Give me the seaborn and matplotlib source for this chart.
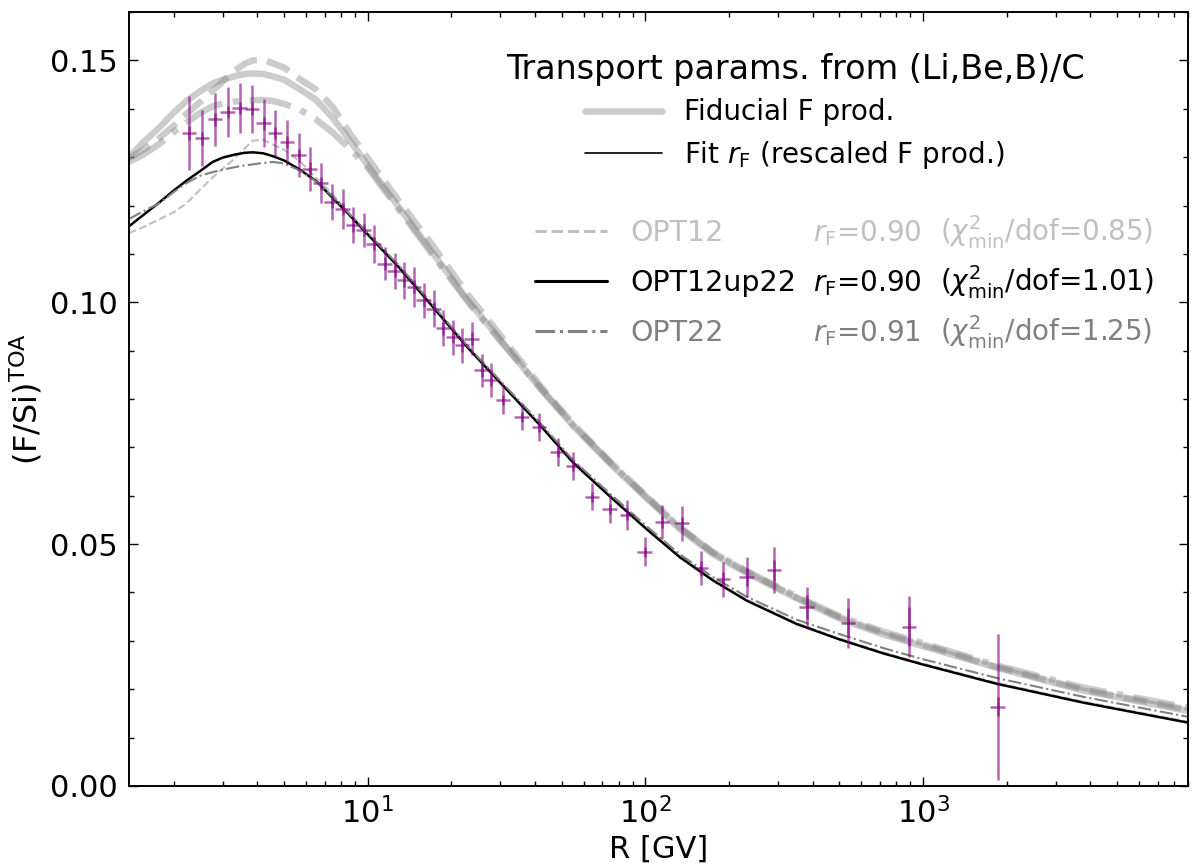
import numpy as np
import pandas as pd
import matplotlib
matplotlib.use("Agg")
import matplotlib.pyplot as plt
import seaborn as sns
from matplotlib.lines import Line2D
from matplotlib.ticker import MultipleLocator, FormatStrFormatter

# --- AMS-02 F/Si data ---
R_data = [2.27, 2.53, 2.82, 3.13, 3.46, 3.83, 4.22, 4.65, 5.12, 5.63, 6.18, 6.77,
          7.42, 8.11, 8.86, 9.67, 10.5, 11.5, 12.5, 13.5, 14.7, 15.9, 17.3, 18.7,
          20.3, 21.9, 23.7, 25.7, 27.7, 30.7, 35.8, 41.4, 48.3, 54.9, 64.3, 74.5,
          86.0, 99.6, 115, 135, 159, 191, 232, 291, 381, 538, 890, 1860]
FSi_data = [0.1350, 0.1339, 0.1378, 0.1393, 0.1402, 0.1400, 0.1370, 0.1350, 0.1331,
            0.1304, 0.1276, 0.1246, 0.1207, 0.1193, 0.1159, 0.1149, 0.1121, 0.1080,
            0.1065, 0.1045, 0.1032, 0.1004, 0.0987, 0.0946, 0.0928, 0.0911, 0.0925,
            0.0859, 0.0839, 0.0798, 0.0763, 0.0742, 0.0691, 0.0662, 0.0598, 0.0572,
            0.0560, 0.0484, 0.0546, 0.0543, 0.0450, 0.0427, 0.0432, 0.0446, 0.0370,
            0.0337, 0.0329, 0.0164]
err_tot = [0.0076, 0.0058, 0.0054, 0.0052, 0.0052, 0.0050, 0.0050, 0.0048, 0.0045,
           0.0045, 0.0045, 0.0041, 0.0037, 0.0041, 0.0037, 0.0035, 0.0039, 0.0035,
           0.0037, 0.0039, 0.0041, 0.0036, 0.0039, 0.0037, 0.0036, 0.0036, 0.0035,
           0.0035, 0.0035, 0.0030, 0.0027, 0.0029, 0.0029, 0.0029, 0.0028, 0.0029,
           0.0031, 0.0030, 0.0035, 0.0036, 0.0035, 0.0037, 0.0041, 0.0048, 0.0041,
           0.0052, 0.0063, 0.0151]
err_stat = [0.0014, 0.0013, 0.0013, 0.0013, 0.0013, 0.0013, 0.0013, 0.0013, 0.0013,
            0.0013, 0.0013, 0.0013, 0.0013, 0.0013, 0.0013, 0.0013, 0.0013, 0.0013,
            0.0013, 0.0013, 0.0013, 0.0013, 0.0013, 0.0013, 0.0013, 0.0013, 0.0013,
            0.0013, 0.0013, 0.0010, 0.0010, 0.0010, 0.0010, 0.0010, 0.0010, 0.0010,
            0.0010, 0.0010, 0.0013, 0.0014, 0.0015, 0.0016, 0.0018, 0.0022, 0.0024,
            0.0030, 0.0040, 0.0020]
XERR_FRAC = 0.06

# --- model curves ---
R_model = [1.38, 1.55, 1.78, 2.0, 2.23, 2.5, 2.76, 3.0, 3.3, 3.6, 3.85, 4.2, 4.55,
           5.0, 5.7, 6.5, 7.5, 8.6, 10, 13, 17, 23, 31, 42, 55, 75, 100, 133, 175,
           232, 350, 500, 720, 1000, 1850, 3800, 9000]
fid_opt12 = [0.1298, 0.1315, 0.1340, 0.1365, 0.1390, 0.1415, 0.1437, 0.1456, 0.1478,
             0.1493, 0.1500, 0.1502, 0.1494, 0.1485, 0.1461, 0.1440, 0.1403, 0.1350,
             0.1298, 0.1208, 0.1120, 0.1015, 0.0922, 0.0826, 0.0748, 0.0669, 0.0601,
             0.0535, 0.0483, 0.0443, 0.0390, 0.0349, 0.0316, 0.0292, 0.0246, 0.0199, 0.0158]
fid_opt12up22 = [0.1300, 0.1330, 0.1362, 0.1392, 0.1417, 0.1437, 0.1452, 0.1460, 0.1467,
                 0.1472, 0.1473, 0.1472, 0.1467, 0.1460, 0.1440, 0.1419, 0.1380, 0.1335,
                 0.1283, 0.1195, 0.1105, 0.1003, 0.0913, 0.0820, 0.0744, 0.0665, 0.0597,
                 0.0531, 0.0479, 0.0440, 0.0388, 0.0346, 0.0313, 0.0289, 0.0244, 0.0197, 0.0155]
fid_opt22 = [0.1290, 0.1305, 0.1328, 0.1352, 0.1372, 0.1392, 0.1405, 0.1411, 0.1415,
             0.1417, 0.1418, 0.1418, 0.1416, 0.1410, 0.1398, 0.1378, 0.1350, 0.1318,
             0.1278, 0.1190, 0.1100, 0.1000, 0.0911, 0.0822, 0.0746, 0.0668, 0.0600,
             0.0534, 0.0483, 0.0444, 0.0392, 0.0351, 0.0319, 0.0295, 0.0249, 0.0203, 0.0162]
fit_opt12 = [0.1143, 0.1155, 0.1172, 0.1186, 0.1205, 0.1234, 0.1258, 0.1276, 0.1296,
             0.1318, 0.1334, 0.1336, 0.1326, 0.1315, 0.1291, 0.1258, 0.1222, 0.1183,
             0.1143, 0.1073, 0.0995, 0.0907, 0.0827, 0.0746, 0.0670, 0.0599, 0.0535,
             0.0475, 0.0427, 0.0385, 0.0337, 0.0305, 0.0276, 0.0253, 0.0213, 0.0174, 0.0133]
fit_opt12up22 = [0.1157, 0.1180, 0.1207, 0.1231, 0.1252, 0.1272, 0.1290, 0.1299, 0.1305,
                 0.1309, 0.1310, 0.1308, 0.1302, 0.1293, 0.1274, 0.1251, 0.1215, 0.1180,
                 0.1140, 0.1071, 0.0993, 0.0905, 0.0825, 0.0744, 0.0668, 0.0597, 0.0533,
                 0.0473, 0.0425, 0.0383, 0.0335, 0.0303, 0.0274, 0.0251, 0.0211, 0.0172, 0.0131]
fit_opt22 = [0.1172, 0.1188, 0.1205, 0.1228, 0.1247, 0.1262, 0.1269, 0.1274, 0.1279,
             0.1283, 0.1285, 0.1288, 0.1290, 0.1287, 0.1272, 0.1250, 0.1218, 0.1182,
             0.1143, 0.1075, 0.0997, 0.0908, 0.0829, 0.0749, 0.0673, 0.0603, 0.0539,
             0.0479, 0.0432, 0.0391, 0.0344, 0.0314, 0.0285, 0.0262, 0.0223, 0.0184, 0.0143]

models = ['OPT12', 'OPT12up22', 'OPT22']
rF_vals = ['0.90', '0.90', '0.91']
chi2_vals = ['0.85', '1.01', '1.25']
model_colors = ['#c0c0c0', 'black', 'gray']
model_styles = ['--', '-', '-.']
fid_curves = [fid_opt12, fid_opt12up22, fid_opt22]
fit_curves = [fit_opt12, fit_opt12up22, fit_opt22]

# --- style ---
sns.set_style('ticks')
plt.rcParams['font.family'] = ['DejaVu Sans']
plt.rcParams['mathtext.fontset'] = 'dejavusans'
for k in ['text.color', 'axes.labelcolor', 'xtick.color', 'ytick.color', 'axes.edgecolor']:
    plt.rcParams[k] = 'black'

fig, ax = plt.subplots(figsize=(12, 8.66), dpi=100)
fig.subplots_adjust(left=0.1075, right=0.99, bottom=0.0924, top=0.9861)
ax.set_xscale('log')

# fiducial predictions (thick, light)
for name, yv, ls in zip(models, fid_curves, model_styles):
    df = pd.DataFrame({'R': R_model, 'y': yv})
    sns.lineplot(data=df, x='R', y='y', ax=ax, color='gray', alpha=0.4,
                 linewidth=4.7, linestyle=ls, legend=False, zorder=1)

# fitted (rescaled) predictions
for name, yv, ls, c in zip(models, fit_curves, model_styles, model_colors):
    df = pd.DataFrame({'R': R_model, 'y': yv})
    lw = 1.8 if name == 'OPT12up22' else 1.5
    sns.lineplot(data=df, x='R', y='y', ax=ax, color=c, linewidth=lw,
                 linestyle=ls, legend=False, zorder=2)

# data
R_arr = np.array(R_data)
ax.errorbar(R_arr, FSi_data, yerr=err_tot, xerr=XERR_FRAC * R_arr, fmt='none',
            ecolor='purple', elinewidth=1.8, alpha=0.6, zorder=3)
ax.errorbar(R_arr, FSi_data, yerr=err_stat, fmt='none',
            ecolor='purple', elinewidth=1.8, alpha=0.6, zorder=3)

ax.set_xlim(1.38, 9000)
ax.set_ylim(0, 0.16)
ax.yaxis.set_major_locator(MultipleLocator(0.05))
ax.yaxis.set_minor_locator(MultipleLocator(0.01))
ax.yaxis.set_major_formatter(FormatStrFormatter('%.2f'))
ax.tick_params(which='both', direction='in', top=True, right=True, width=1.0)
ax.tick_params(which='major', length=6.5, labelsize=22, pad=8)
ax.tick_params(which='minor', length=3.5)
for sp in ax.spines.values():
    sp.set_linewidth(1.4)

ax.set_xlabel('R [GV]', fontsize=22)
ax.set_ylabel(r'$(\mathrm{F/Si})^{\mathrm{TOA}}$', fontsize=23)

# legend 1: fiducial vs fit
h1 = [Line2D([], [], color='gray', alpha=0.4, lw=4.7),
      Line2D([], [], color='black', lw=1.2)]
l1 = ['Fiducial F prod.', r'Fit $r_\mathrm{F}$ (rescaled F prod.)']
leg1 = ax.legend(h1, l1, title='Transport params. from (Li,Be,B)/C',
                 title_fontsize=24, fontsize=20, frameon=False,
                 loc='upper center', bbox_to_anchor=(0.629, 0.98),
                 handlelength=2.77, labelspacing=0.46)
ax.add_artist(leg1)

# legend 2: models
h2 = [Line2D([], [], color=c, ls=ls, lw=2.2) for c, ls in zip(model_colors, model_styles)]
leg2 = ax.legend(h2, models, fontsize=20.5, frameon=False, loc='upper left',
                 bbox_to_anchor=(0.3594, 0.7652), handlelength=2.53,
                 handletextpad=0.81, labelspacing=0.766, labelcolor=model_colors)

# extra aligned columns for r_F and chi2
fig.canvas.draw()
renderer = fig.canvas.get_renderer()
inv = ax.transAxes.inverted()
for txt, rf, chi, c in zip(leg2.get_texts(), rF_vals, chi2_vals, model_colors):
    bb = txt.get_window_extent(renderer)
    _, _, lp_d = renderer.get_text_width_height_descent('lp', txt.get_fontproperties(), ismath=False)
    yb = inv.transform((0, bb.y0 + lp_d))[1]
    ax.text(0.6459, yb, r'$r_\mathrm{F}$=' + rf, transform=ax.transAxes,
            color=c, fontsize=20, va='baseline', ha='left')
    ax.text(0.7658, yb, r'($\chi^2_\mathrm{min}$/dof=' + chi + ')', transform=ax.transAxes,
            color=c, fontsize=20, va='baseline', ha='left')

fig.savefig('out.png', dpi=100)
